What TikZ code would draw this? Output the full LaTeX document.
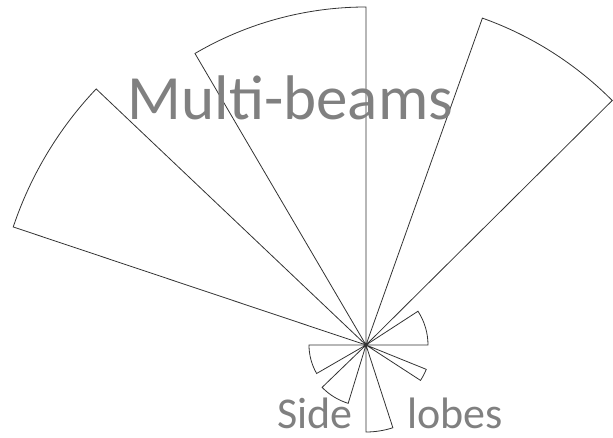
\documentclass[tikz,border=0pt]{standalone}
\usepackage{fontspec}
\setmainfont{Carlito}
\begin{document}
\begin{tikzpicture}[x=1pt,y=1pt,
  beam/.style={draw=black!80,line width=0.8pt,line join=miter},
  lbl/.style={text=black!50,inner sep=0pt,text depth=0pt}]
\useasboundingbox (-366,-93) rectangle (247,345);
\coordinate (O) at (0,0);
% main beams
\draw[beam] (O) -- ++(136.5:372) arc[start angle=136.5,end angle=161.5,radius=372] -- cycle;
\draw[beam] (O) -- ++(90:338) arc[start angle=90,end angle=120.4,radius=338] -- cycle;
\draw[beam] (O) -- ++(44.8:347) arc[start angle=44.8,end angle=70.4,radius=347] -- cycle;
% side lobes
\draw[beam] (O) -- ++(0:62) arc[start angle=0,end angle=33,radius=62] -- cycle;
\draw[beam] (O) -- ++(180:57) arc[start angle=180,end angle=210,radius=57] -- cycle;
\draw[beam] (O) -- ++(224:61) arc[start angle=224,end angle=253,radius=61] -- cycle;
\draw[beam] (O) -- ++(270:87) arc[start angle=270,end angle=288,radius=87] -- cycle;
\draw[beam] (O) -- ++(327:65) arc[start angle=327,end angle=338,radius=65] -- cycle;
% labels
\node[lbl,anchor=base,font=\fontsize{63}{72}\selectfont] (mb) at (-75.5,225) {Multi-beams};
\node[lbl,anchor=base east,font=\fontsize{44}{50}\selectfont] (side) at (-13,-84) {Side};
\node[lbl,anchor=base west,font=\fontsize{44}{50}\selectfont] (lobes) at (41,-84) {lobes};
\end{tikzpicture}
\end{document}
